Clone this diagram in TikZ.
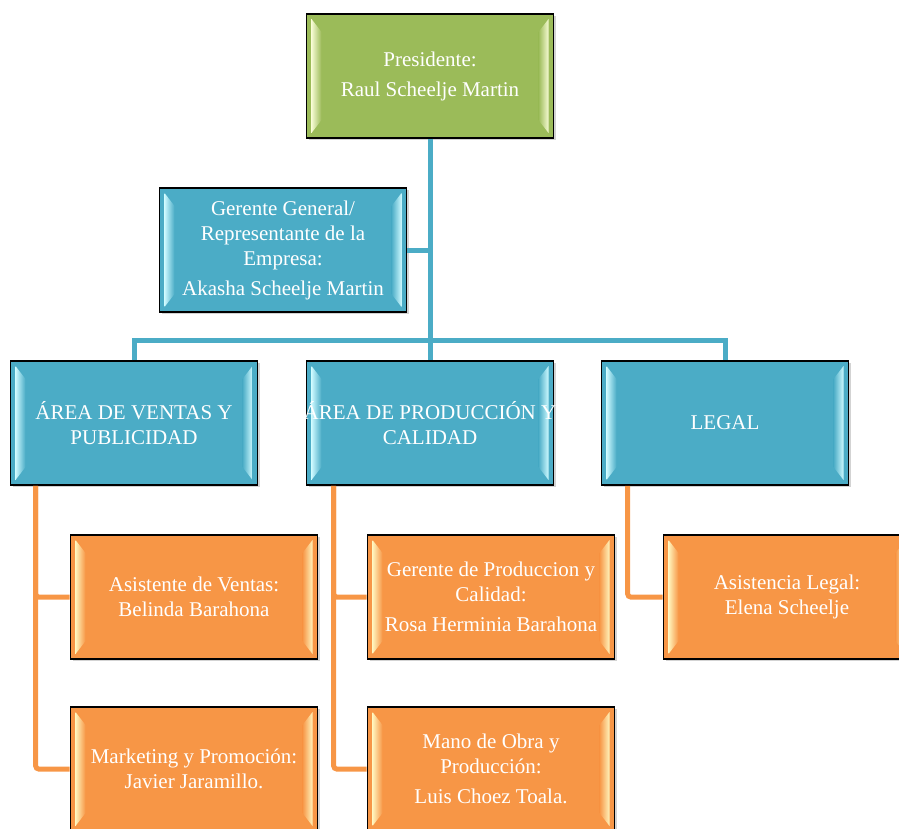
\documentclass[tikz,border=0pt]{standalone}
\usepackage{fontspec}
\setmainfont{Liberation Serif}
\usetikzlibrary{positioning, shadows}
\definecolor{presGreen}{HTML}{9BBB59}
\definecolor{areaBlue}{HTML}{4BACC6}
\definecolor{staffOrange}{HTML}{F79646}
\definecolor{greenLight}{HTML}{F6FAD2}
\definecolor{blueLight}{HTML}{CCF9FF}
\definecolor{orangeLight}{HTML}{FFF4BC}
\tikzset{bevel/.style 2 args={
    path picture={
      \coordinate (nw) at (path picture bounding box.north west);
      \coordinate (se) at (path picture bounding box.south east);
      \shade[left color=#2, right color=#1]
        ([xshift=5pt,yshift=-5pt]nw) -- ([xshift=15pt,yshift=-18pt]nw)
        -- ([xshift=15pt,yshift=18pt]nw|-se) -- ([xshift=5pt,yshift=5pt]nw|-se) -- cycle;
      \shade[left color=#1, right color=#2]
        ([xshift=-5pt,yshift=-5pt]nw-|se) -- ([xshift=-15pt,yshift=-18pt]nw-|se)
        -- ([xshift=-15pt,yshift=18pt]se) -- ([xshift=-5pt,yshift=5pt]se) -- cycle;
    }}}
\tikzstyle{bevelBox} = [
    rectangle,
    draw=black,
    line width=1.6pt,
    text=white,
    align=center,
    minimum width=247pt,
    minimum height=124pt,
    inner sep=1pt,
    font=\fontsize{21}{25}\selectfont,
    drop shadow={shadow xshift=2pt, shadow yshift=-2pt, opacity=0.35}
    ]
\tikzstyle{greenRectangle} = [bevelBox, fill=presGreen, bevel={presGreen}{greenLight}]
\tikzstyle{blueRectangle} = [bevelBox, fill=areaBlue, bevel={areaBlue}{blueLight}]
\tikzstyle{orangeRectangle} = [bevelBox, fill=staffOrange, bevel={staffOrange}{orangeLight}]
\tikzstyle{blueLine} = [line width=5pt, draw=areaBlue]
\tikzstyle{orangeLine} = [line width=5pt, draw=staffOrange, rounded corners=3pt]

\begin{document}
\begin{tikzpicture}[x=1pt, y=-1pt]
      \useasboundingbox (0,0) rectangle (899,829);
      % top of the chart
      \node[greenRectangle] at (430,76) (pres) {Presidente:\\[5pt]Raul Scheelje Martin};
      \node[blueRectangle] at (283,250) (gerente) {Gerente General/\\Representante de la\\Empresa:\\[5pt]Akasha Scheelje Martin};
      % areas
      \node[blueRectangle] at (134,423) (ventas) {ÁREA DE VENTAS Y\\PUBLICIDAD};
      \node[blueRectangle] at (430,423) (produccion) {\makebox[230pt]{ÁREA DE PRODUCCIÓN Y}\\CALIDAD};
      \node[blueRectangle] at (725,423) (legal) {LEGAL};
      % staff
      \node[orangeRectangle] at (194,597) (asisVentas) {Asistente de Ventas:\\Belinda Barahona};
      \node[orangeRectangle] at (194,769) (marketing) {Marketing y Promoción:\\Javier Jaramillo.};
      \node[orangeRectangle] at (491,597) (gerProd) {Gerente de Produccion y\\Calidad:\\[5pt]Rosa Herminia Barahona};
      \node[orangeRectangle] at (491,769) (manoObra) {Mano de Obra y\\Producción:\\[5pt]Luis Choez Toala.};
      \node[orangeRectangle] at (787,597) (asisLegal) {Asistencia Legal:\\Elena Scheelje};

      % blue connectors
      \coordinate (bus) at (430,340);
      \draw[blueLine] (pres.south) -- (produccion.north);
      \draw[blueLine] (gerente.east) -- (gerente.east -| pres.south);
      \draw[blueLine] (ventas.north) |- (bus) -| (legal.north);

      % orange connectors
      \coordinate (ventasTrunk) at ([xshift=26pt]ventas.south west);
      \coordinate (prodTrunk) at ([xshift=28pt]produccion.south west);
      \coordinate (legalTrunk) at ([xshift=27pt]legal.south west);
      \draw[orangeLine] (ventasTrunk) |- (asisVentas.west);
      \draw[orangeLine] (ventasTrunk) |- (marketing.west);
      \draw[orangeLine] (prodTrunk) |- (gerProd.west);
      \draw[orangeLine] (prodTrunk) |- (manoObra.west);
      \draw[orangeLine] (legalTrunk) |- (asisLegal.west);
    \end{tikzpicture}
\end{document}
